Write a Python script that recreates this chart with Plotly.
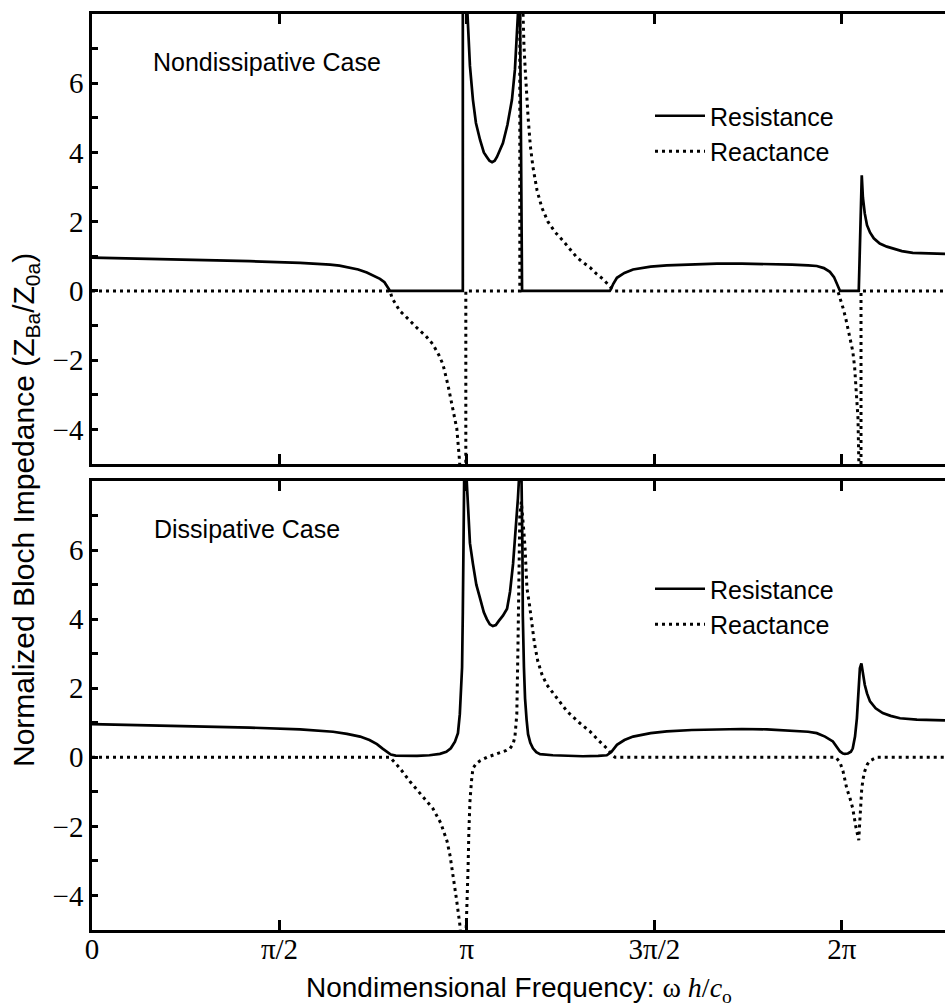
import plotly.graph_objects as go

# x values are in units of pi (omega h / c_o divided by pi)
# ---- Nondissipative case (top panel) ----
nd_res_x = [0, 0.155, 0.288, 0.421, 0.555, 0.600, 0.635, 0.660, 0.688, 0.710, 0.733, 0.752,
            0.768, 0.780, 0.787, 0.792, 0.795,
            0.989, 0.989, 0.997, 1.000, 1.003, 1.008, 1.016, 1.024, 1.035, 1.045, 1.053, 1.060,
            1.067, 1.074, 1.080, 1.088, 1.096, 1.108, 1.120, 1.128, 1.133, 1.137, 1.139,
            1.141, 1.147, 1.381, 1.384, 1.390, 1.400, 1.420, 1.443, 1.490, 1.533, 1.600,
            1.667, 1.733, 1.800, 1.867, 1.910, 1.933, 1.952, 1.968, 1.979, 1.987, 1.995,
            2.045, 2.053, 2.056, 2.061, 2.067, 2.075, 2.085, 2.101, 2.120, 2.136, 2.160,
            2.189, 2.230, 2.275]
nd_res_y = [0.96, 0.93, 0.90, 0.86, 0.81, 0.79, 0.76, 0.73, 0.68, 0.62, 0.53, 0.44,
            0.35, 0.25, 0.15, 0.07, 0.0,
            0.0, 9.0, 9.0, 8.2, 7.47, 6.5, 5.52, 4.85, 4.36, 4.0, 3.87, 3.76,
            3.72, 3.76, 3.87, 4.05, 4.27, 4.8, 5.52, 6.4, 7.47, 8.3, 9.0,
            9.0, 0.0, 0.0, 0.05, 0.20, 0.38, 0.52, 0.62, 0.70, 0.74, 0.77,
            0.79, 0.79, 0.78, 0.76, 0.74, 0.72, 0.66, 0.55, 0.40, 0.20, 0.0,
            0.0, 3.34, 2.70, 2.24, 1.90, 1.69, 1.52, 1.37, 1.28, 1.22, 1.15,
            1.10, 1.08, 1.07]

nd_rea_x = [0, 0.795, 0.800, 0.805, 0.813, 0.821, 0.835, 0.848, 0.867, 0.890, 0.909, 0.925,
            0.936, 0.949, 0.957, 0.963, 0.973, 0.979, 0.984, 0.997, 0.997, 1.141, 1.141,
            1.147, 1.149, 1.152, 1.155, 1.159, 1.163, 1.169, 1.176, 1.187, 1.200, 1.216,
            1.235, 1.256, 1.275, 1.293, 1.310, 1.328, 1.345, 1.363, 1.377, 1.387, 1.392,
            1.989, 1.995, 2.003, 2.010, 2.016, 2.023, 2.029, 2.034, 2.037, 2.041, 2.043,
            2.045, 2.047, 2.051, 2.051, 2.275]
nd_rea_y = [0.0, 0.0, -0.20, -0.30, -0.42, -0.58, -0.72, -0.87, -1.07, -1.30, -1.54, -1.85,
            -2.12, -2.70, -3.10, -3.40, -3.98, -4.74, -5.5, -5.5, 0.0, 0.0, 9.0,
            9.0, 7.85, 7.10, 6.48, 5.70, 5.03, 4.20, 3.58, 2.90, 2.40, 2.00,
            1.70, 1.45, 1.20, 0.97, 0.82, 0.68, 0.50, 0.34, 0.18, 0.06, 0.0,
            0.0, -0.20, -0.49, -0.78, -1.08, -1.40, -1.74, -2.20, -2.70, -3.20, -3.69,
            -4.85, -5.5, -5.5, 0.0, 0.0]

# ---- Dissipative case (bottom panel) ----
d_res_x = [0, 0.155, 0.288, 0.421, 0.555, 0.600, 0.643, 0.680, 0.715, 0.740, 0.760, 0.775,
           0.787, 0.797, 0.810, 0.867, 0.900, 0.928, 0.945, 0.957, 0.968, 0.976, 0.981,
           0.985, 0.987, 0.989, 0.991, 0.993, 0.997, 1.003, 1.008, 1.016, 1.025, 1.035,
           1.045, 1.053, 1.061, 1.069, 1.077, 1.085, 1.096, 1.107, 1.115, 1.123, 1.130,
           1.136, 1.141, 1.145, 1.148, 1.149, 1.152, 1.155, 1.159, 1.163, 1.169, 1.176,
           1.185, 1.195, 1.229, 1.270, 1.309, 1.350, 1.373, 1.385, 1.400, 1.420, 1.443,
           1.490, 1.533, 1.600, 1.667, 1.733, 1.800, 1.867, 1.910, 1.933, 1.955, 1.976,
           1.988, 1.995, 2.003, 2.008, 2.016, 2.024, 2.029, 2.035, 2.040, 2.045, 2.048,
           2.052, 2.055, 2.058, 2.061, 2.067, 2.075, 2.090, 2.109, 2.130, 2.155, 2.200,
           2.275]
d_res_y = [0.96, 0.93, 0.90, 0.86, 0.81, 0.78, 0.74, 0.68, 0.60, 0.50, 0.38, 0.25,
           0.15, 0.08, 0.05, 0.04, 0.06, 0.10, 0.16, 0.26, 0.45, 0.70, 1.25,
           2.00, 2.60, 4.20, 6.00, 8.5, 8.5, 7.04, 6.20, 5.60, 5.00, 4.60,
           4.20, 4.00, 3.85, 3.80, 3.83, 3.95, 4.10, 4.30, 4.80, 5.60, 6.50,
           7.50, 8.5, 8.5, 6.00, 4.10, 2.60, 1.70, 1.10, 0.67, 0.42, 0.26,
           0.15, 0.09, 0.06, 0.04, 0.03, 0.04, 0.06, 0.15, 0.36, 0.50, 0.60,
           0.70, 0.75, 0.79, 0.81, 0.82, 0.81, 0.78, 0.74, 0.70, 0.60, 0.46,
           0.28, 0.17, 0.11, 0.10, 0.11, 0.16, 0.26, 0.60, 1.13, 1.90, 2.58,
           2.72, 2.50, 2.25, 2.10, 1.85, 1.62, 1.42, 1.28, 1.20, 1.13, 1.09,
           1.07]

d_rea_x = [0, 0.795, 0.800, 0.820, 0.848, 0.875, 0.900, 0.909, 0.930, 0.947, 0.955, 0.963,
           0.972, 0.981, 0.984, 0.997, 1.000, 1.003, 1.005, 1.008, 1.012, 1.016, 1.025,
           1.035, 1.053, 1.070, 1.088, 1.105, 1.115, 1.123, 1.128, 1.133, 1.136, 1.139,
           1.141, 1.145, 1.149, 1.152, 1.155, 1.160, 1.167, 1.173, 1.180, 1.189, 1.200,
           1.213, 1.240, 1.267, 1.300, 1.328, 1.350, 1.373, 1.389, 1.395, 1.984, 1.995,
           2.003, 2.013, 2.022, 2.029, 2.037, 2.045, 2.047, 2.050, 2.053, 2.057, 2.061,
           2.068, 2.075, 2.093, 2.275]
d_rea_y = [0.0, 0.0, -0.06, -0.30, -0.70, -1.05, -1.35, -1.48, -1.90, -2.43, -2.85, -3.39,
           -4.10, -4.84, -5.3, -5.3, -4.50, -3.20, -2.20, -1.28, -0.70, -0.32, -0.18,
           -0.10, 0.0, 0.06, 0.12, 0.20, 0.26, 0.38, 0.60, 1.25, 3.16, 5.10,
           7.00, 7.40, 7.00, 6.50, 6.06, 4.90, 4.40, 3.94, 3.30, 2.78, 2.40,
           2.10, 1.70, 1.33, 1.00, 0.75, 0.50, 0.26, 0.05, 0.0, 0.0, -0.15,
           -0.40, -0.90, -1.20, -1.48, -2.00, -2.40, -2.00, -1.30, -0.90, -0.60, -0.40,
           -0.20, -0.10, 0.0, 0.0]

x_tickvals = [0, 0.5, 1, 1.5, 2]
x_ticktext = ["0", "π/2", "π", "3π/2", "2π"]
y_tickvals = [-4, -2, 0, 2, 4, 6]
y_minorvals = [-3, -1, 1, 3, 5, 7]

SANS = "Liberation Sans"
SERIF = "Liberation Serif"
solid = dict(color="black", width=2.7)
dotted = dict(color="black", width=3, dash="3px,4px")

fig = go.Figure()
fig.add_trace(go.Scatter(x=nd_res_x, y=nd_res_y, xaxis="x2", yaxis="y2", mode="lines",
                         line=solid, name="Resistance", legend="legend"))
fig.add_trace(go.Scatter(x=nd_rea_x, y=nd_rea_y, xaxis="x2", yaxis="y2", mode="lines",
                         line=dotted, name="Reactance", legend="legend"))
fig.add_trace(go.Scatter(x=d_res_x, y=d_res_y, xaxis="x", yaxis="y", mode="lines",
                         line=solid, name="Resistance", legend="legend2"))
fig.add_trace(go.Scatter(x=d_rea_x, y=d_rea_y, xaxis="x", yaxis="y", mode="lines",
                         line=dotted, name="Reactance", legend="legend2"))

W, H = 945, 1007
L, R, T, B = 92, 0, 14, 77
pw, ph = W - L - R, H - T - B

def px_x(p):
    return (p - L) / pw

def px_y(p):
    return (H - B - p) / ph

xcommon = dict(range=[0, 2.275], showline=True, linecolor="black", linewidth=2.5,
               mirror="ticks", ticks="inside", ticklen=10, tickwidth=2.5, tickcolor="black",
               tickvals=x_tickvals, ticktext=x_ticktext, showgrid=False, zeroline=False,
               tickfont=dict(family=SERIF, size=29, color="black"))
ycommon = dict(range=[-5, 8], showline=True, linecolor="black", linewidth=2.5, mirror=False,
               ticks="inside", ticklen=6, tickwidth=2.5, tickcolor="black",
               tickvals=y_tickvals,
               minor=dict(tickvals=y_minorvals, ticks="inside", ticklen=6, tickwidth=2.5,
                          tickcolor="black"),
               showgrid=False, zeroline=False,
               tickfont=dict(family=SERIF, size=29, color="black"))

legfont = dict(family=SANS, size=25, color="black")
fig.update_layout(
    width=W, height=H,
    margin=dict(l=L, r=R, t=T, b=B, pad=0),
    paper_bgcolor="white", plot_bgcolor="white",
    xaxis=dict(anchor="y", ticklabelstandoff=-9, **xcommon),
    xaxis2=dict(anchor="y2", matches="x", showticklabels=False, **xcommon),
    yaxis=dict(anchor="x", domain=[0, 449 / 916], **ycommon),
    yaxis2=dict(anchor="x2", domain=[466 / 916, 1], **ycommon),
    legend=dict(x=px_x(650), y=px_y(93), xanchor="left", yanchor="top",
                font=legfont, bgcolor="rgba(0,0,0,0)", itemwidth=50, tracegroupgap=0),
    legend2=dict(x=px_x(650), y=px_y(566), xanchor="left", yanchor="top",
                 font=legfont, bgcolor="rgba(0,0,0,0)", itemwidth=50, tracegroupgap=0),
    annotations=[
        dict(text="Nondissipative Case", xref="paper", yref="paper", x=px_x(151), y=px_y(62),
             xanchor="left", yanchor="middle", showarrow=False,
             font=dict(family=SANS, size=25, color="black")),
        dict(text="Dissipative Case", xref="paper", yref="paper", x=px_x(152), y=px_y(529),
             xanchor="left", yanchor="middle", showarrow=False,
             font=dict(family=SANS, size=25, color="black")),
        dict(text="Normalized Bloch Impedance (Z<sub>Ba</sub>/Z<sub>0a</sub>)",
             xref="paper", yref="paper", x=px_x(26), y=px_y(510), textangle=-90,
             xanchor="center", yanchor="middle", showarrow=False,
             font=dict(family=SANS, size=30, color="black")),
        dict(text="Nondimensional Frequency: <span style=\"font-family:Liberation Serif\">ω <i>h</i>/<i>c</i><sub>o</sub></span>",
             xref="paper", yref="paper", x=0.5, y=px_y(989),
             xanchor="center", yanchor="middle", showarrow=False,
             font=dict(family=SANS, size=28, color="black")),
    ],
)

fig.write_html("out.html", post_script="document.body.style.margin='0px';",
               config={"displayModeBar": False})
